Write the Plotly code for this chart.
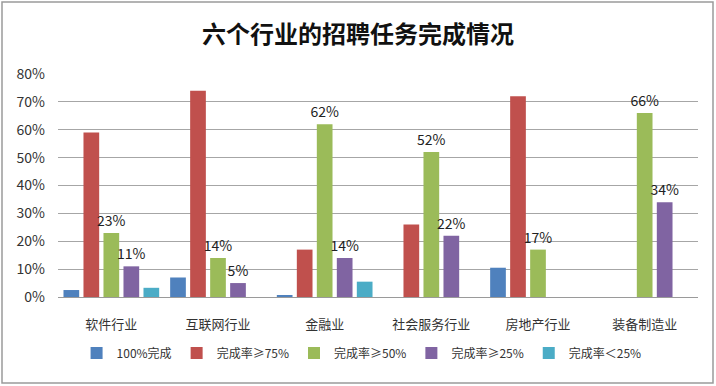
import plotly.graph_objects as go

categories = ["软件行业", "互联网行业", "金融业", "社会服务行业", "房地产行业", "装备制造业"]
series_names = ["100%完成", "完成率≥75%", "完成率≥50%", "完成率≥25%", "完成率＜25%"]
v_full = [2.5, 7, 0.7, None, 10.5, None]
v_75 = [59, 74, 17, 26, 72, None]
v_50 = [23, 14, 62, 52, 17, 66]
v_25 = [11, 5, 14, 22, None, 34]
v_lt25 = [3.3, None, 5.5, None, None, None]
colors = ["#4F81BD", "#C0504D", "#9BBB59", "#8064A2", "#4BACC6"]
show_labels = [False, False, True, True, False]
y_ticks = [0, 10, 20, 30, 40, 50, 60, 70, 80]

FONT = "Noto Sans CJK SC, Microsoft YaHei, sans-serif"

fig = go.Figure()
for name, vals, col, lab in zip(series_names, [v_full, v_75, v_50, v_25, v_lt25], colors, show_labels):
    fig.add_trace(go.Bar(
        x=categories, y=vals, name=name,
        marker=dict(color=col, line=dict(width=0)),
        text=[(f"{v:.0f}%" if (lab and v is not None) else "") for v in vals],
        textposition="outside", constraintext="none",
        textfont=dict(size=14, color="#222", family=FONT),
        cliponaxis=False,
    ))

W, H = 716, 386
ml, mr, mt, mb = 58, 18, 74, 89
pw, ph = W - ml - mr, H - mt - mb

fig.update_layout(
    width=W, height=H, autosize=False,
    margin=dict(l=ml, r=mr, t=mt, b=mb, autoexpand=False),
    paper_bgcolor="white", plot_bgcolor="white",
    barmode="group", bargap=0.0625, bargroupgap=0.215,
    font=dict(family=FONT, color="#333", size=13),
    title=dict(text="<b>六个行业的招聘任务完成情况</b>", x=0.5, xanchor="center",
               y=1 - 35 / H, yanchor="middle",
               font=dict(size=24, color="#111", family=FONT)),
    showlegend=True,
    legend=dict(orientation="h", xref="container", yref="container",
                x=0.505, xanchor="center", y=1 - 353 / H, yanchor="middle",
                font=dict(size=12, color="#333", family=FONT),
                itemwidth=30, traceorder="normal"),
    shapes=[dict(type="rect", xref="paper", yref="paper",
                 x0=(2 - ml) / pw, x1=(713 - ml) / pw,
                 y0=(mt + ph - 383) / ph, y1=(mt + ph - 2) / ph,
                 line=dict(color="#9a9a9a", width=1.5), layer="below")],
)
fig.update_xaxes(showgrid=False, showline=True, linecolor="#9a9a9a", linewidth=1.2,
                 ticks="", tickfont=dict(size=13, color="#333"), ticklabelstandoff=15)
fig.update_yaxes(range=[0, 80], tickvals=y_ticks, ticktext=[f"{t}%" for t in y_ticks],
                 showgrid=True, gridcolor="#a6a6a6", gridwidth=1, zeroline=False,
                 showline=False, ticks="", tickfont=dict(size=14, color="#333"),
                 ticklabelstandoff=12)

fig.write_html("out.html", config={"displayModeBar": False},
               post_script="document.body.style.margin='0';document.body.style.overflow='hidden';")
